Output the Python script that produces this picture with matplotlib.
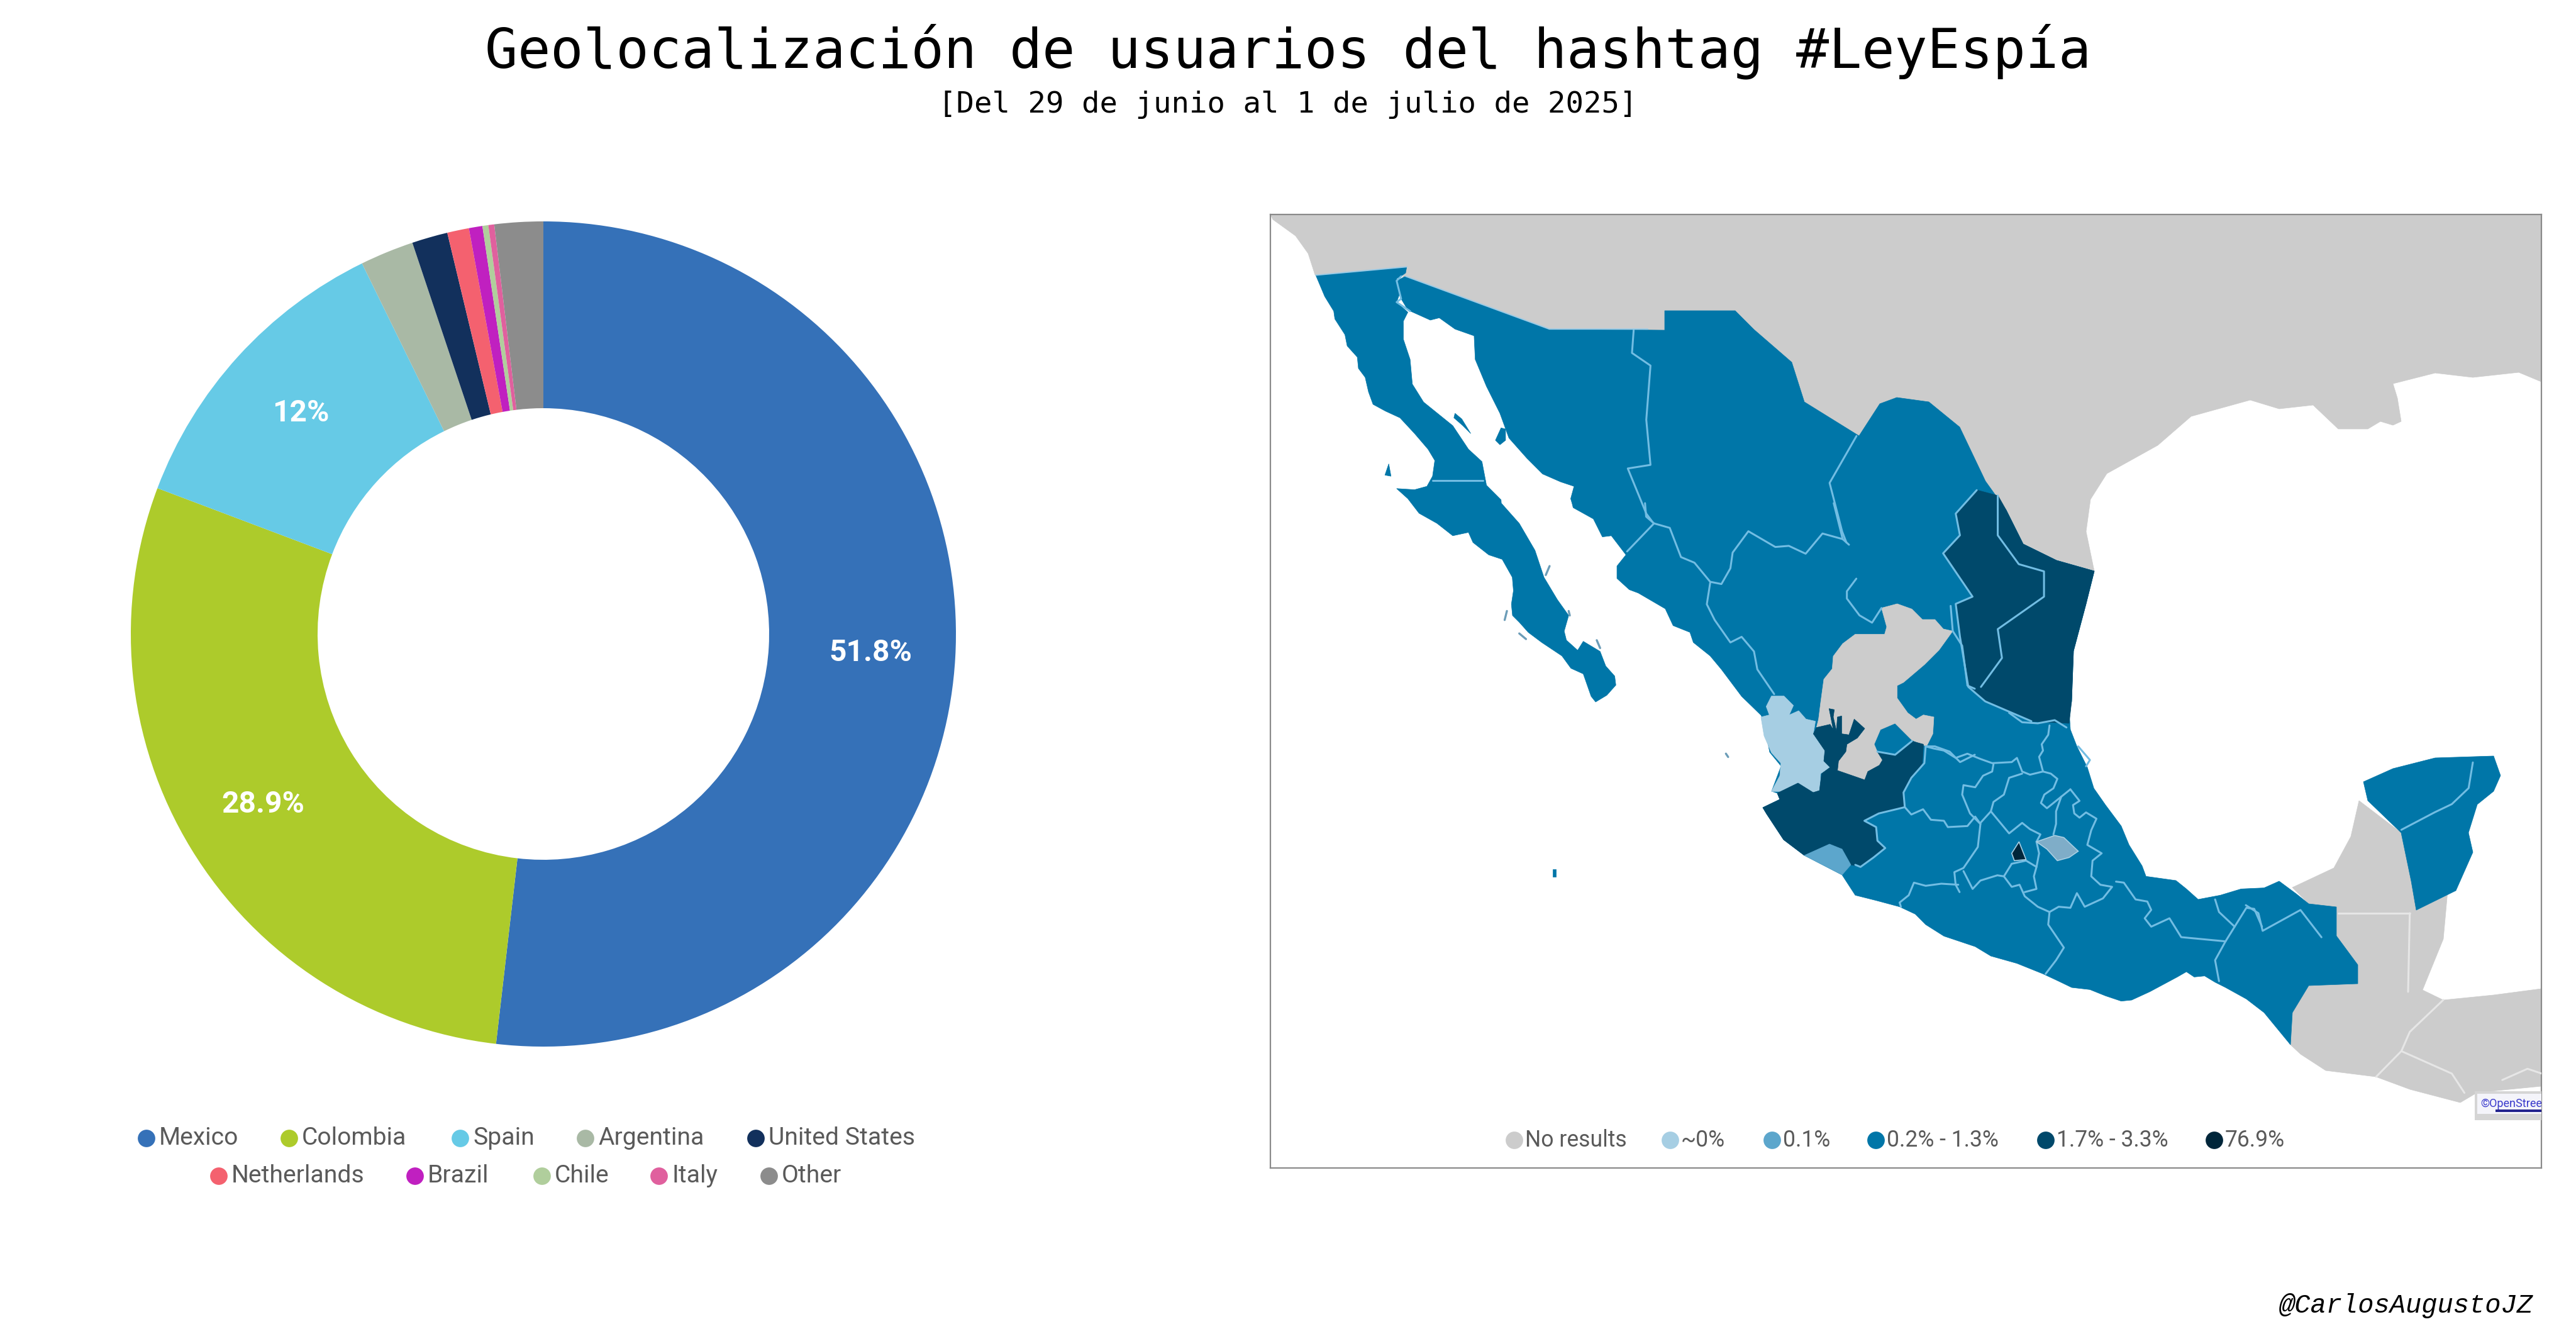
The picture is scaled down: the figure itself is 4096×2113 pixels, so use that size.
import matplotlib
matplotlib.use("Agg")
import matplotlib.pyplot as plt
from matplotlib.patches import Polygon, Rectangle

W, H = 4096, 2113

# ---------- donut data ----------
countries = ["Mexico", "Colombia", "Spain", "Argentina", "United States",
             "Netherlands", "Brazil", "Chile", "Italy", "Other"]
shares = [51.8, 28.9, 12.0, 2.1, 1.4, 0.85, 0.53, 0.23, 0.23, 1.9]
share_labels = ["51.8%", "28.9%", "12%", "", "", "", "", "", "", ""]
country_colors = ["#3571B8", "#ADCB2B", "#66CAE6", "#A9B9A5", "#12305C",
                  "#F4616F", "#C020C0", "#B0CE9C", "#E0609E", "#8C8C8C"]

# ---------- map legend ----------
map_classes = ["No results", "~0%", "0.1%", "0.2% - 1.3%", "1.7% - 3.3%", "76.9%"]
C_NONE, C_ZERO, C_LOW, C_MID, C_HIGH, C_TOP = ("#CCCCCC", "#A6CEE3", "#5CA6CC",
                                               "#0076A8", "#00496B", "#00263A")
map_colors = [C_NONE, C_ZERO, C_LOW, C_MID, C_HIGH, C_TOP]
C_LINE = "#72BDE3"


# ---------- sheets the outlines were traced on ----------
def from_north(pts):
    return [(2000 + 1.337 * x, 300 + 0.574 * y) for x, y in pts]


def from_center(pts):
    return [(2950 + x / 2.412, 1130 + y / 3) for x, y in pts]


def from_south(pts):
    return [(2000 + 1.337 * x, 1100 + 0.51 * y) for x, y in pts]


def from_a(pts):
    return [(2060 + x / 2.8, 400 + y / 2.8) for x, y in pts]


def from_b(pts):
    return [(2380 + x / 2.8, 800 + y / 2.8) for x, y in pts]


def from_c(pts):
    return [(2800 + x / 3, 920 + y / 3) for x, y in pts]


# ---------- traced geography ----------
usa = [(2020,341),(2024,349),(2060,375),(2080,403),(2091,437),(2238,424),(2230,441),(2461,525),
       (2647,525),(2647,494),(2759,494),(2789,524),(2849,576),(2869,639),(2956,693),(2989,642),
       (3016,632),(3067,639),(3116,679),(3157,765),(3190,811),(3217,865),(3270,891),(3330,908),
       (3317,845),(3324,794),(3350,753),(3431,708),(3484,662),(3578,636),(3624,650),(3678,644),
       (3718,682),(3765,682),(3785,670),(3805,676),(3818,670),(3812,633),(3805,610),(3872,593),
       (3932,600),(4005,592),(4041,607),(4041,341)]
baja = (from_a([(90,105),(130,200),(170,265),(175,300),(220,370),(230,420),(275,470),(280,520),
                (310,560),(325,625),(345,680),(400,710),(465,740),(530,810),(590,880),(620,930),
                (610,1000),(585,1045),(530,1060),(450,1055),(500,1100),(550,1165),(630,1210),
                (700,1265),(770,1250),(790,1295),(860,1350),(920,1370),(965,1450),(970,1510)])
        + from_b([(65,450),(70,500),(100,530),(140,575),(200,620),(290,680),(330,735),(385,760),
                  (420,860),(440,885),(490,855),(530,810),(525,770),(485,725),(460,660),(385,615),
                  (360,655),(310,610),(300,570),(320,500),(270,430),(210,330),(170,210),(100,90),
                  (20,0)])
        + from_a([(915,1105),(850,1040),(830,935),(770,880),(700,775),(570,670),(520,590),(510,480),
                  (480,390),(480,310),(500,270),(450,225),(470,170),(450,120),(470,110),(490,95),
                  (495,68)]))
baja_islands = [from_a([(915,785),(935,790),(935,840),(910,860),(890,840)]),
                from_a([(710,720),(740,745),(780,810),(745,775),(705,740)]),
                from_a([(415,945),(425,1000),(398,995)])]
mainland = (from_a([(490,110),(1130,345)])
            + [(2647,525),(2647,494),(2759,494),(2789,524),(2849,576),
               (2869,639),(2956,693),(2989,642),(3016,632),(3067,639),(3116,679),(3157,765),
               (3190,811),(3217,865),(3270,891),(3330,908),(3317,960),(3297,1035),(3294,1115)]
            + from_center([(820,0),(825,90),(850,170),(890,270),(915,370),(960,450),(1020,550),
                           (1050,640),(1100,740),(1115,790),(1230,810),(1270,850),(1315,900),
                           (1400,880),(1480,850),(1568,845)])
            + [(3624,1401),(3651,1421),(3671,1437),(3715,1442),(3715,1488),(3749,1534),(3749,1564),
               (3671,1567),(3645,1610),(3642,1661)]
            + from_center([(1568,1440),(1500,1375),(1420,1320),(1380,1295),(1340,1265),(1300,1270),
                           (1270,1245),(1235,1270),(1130,1340),(1060,1380),(1020,1385),(960,1360),
                           (900,1330),(830,1320),(780,1290),(720,1255),(620,1205),(520,1170),
                           (460,1125),(340,1075),(270,1020),(230,970),(170,935),(80,905),(0,880)])
            + [(2929,1391),(2869,1360),(2836,1335),(2809,1294),(2803,1284),(2830,1271),(2826,1261),
               (2817,1258),(2832,1218),(2814,1196),(2803,1143),(2800,1137)]
            + from_b([(1090,860),(1000,740),(950,680),(875,620),(860,575),(785,545),(750,470),
                      (630,400),(590,385),(535,335),(535,280),(575,230),(510,145),(470,150),
                      (430,70),(340,20),(335,0)])
            + from_a([(1225,1100),(1240,1045),(1180,1025),(1100,990),(1030,920),(950,830),(910,720),
                      (850,600),(800,480),(795,375),(710,345),(640,295),(600,305),(500,260),
                      (470,210),(450,130)]))
yucatan = [(3758,1243),(3805,1222),(3872,1205),(3965,1202),(3976,1233),(3965,1258),(3939,1279),
           (3925,1324),(3932,1355),(3905,1416),(3842,1447),(3834,1401),(3818,1324),(3765,1273)]
central_america = [(3751,1273),(3818,1324),(3834,1401),(3842,1447),(3892,1416),(3885,1493),
                   (3852,1574),(3885,1590),(3965,1582),(4041,1572),(4041,1727),(3939,1737),
                   (3912,1753),(3832,1732),(3778,1712),(3698,1702),(3658,1676),(3642,1661),
                   (3645,1610),(3671,1567),(3749,1564),(3749,1534),(3715,1488),(3715,1442),
                   (3671,1437),(3645,1411),(3711,1380),(3738,1330)]
noresult = from_c([(575,140),(650,120),(720,145),(770,195),(830,195),(870,240),(915,250),(850,340),
                   (780,410),(680,495),(650,510),(650,570),(700,640),(740,670),(775,650),(825,660),
                   (820,740),(790,800),(720,770),(640,690),(570,720),(540,790),(555,825),(580,865),
                   (565,890),(510,920),(495,960),(365,915),(370,870),(405,825),(410,790),(460,760),
                   (495,715),(445,670),(420,745),(385,740),(385,655),(365,660),(360,725),(345,660),
                   (350,625),(325,620),(345,720),(330,695),(265,710),(275,670),(285,590),(300,480),
                   (340,430),(345,370),(390,310),(450,265),(590,265),(600,230)])
high_west = (from_c([(250,740),(265,710),(330,695),(345,720),(325,620),(350,625),(345,660),(360,725),
                     (365,660),(385,655),(385,740),(420,745),(445,670),(495,715),(460,760),(410,790),
                     (405,825),(370,870),(365,915),(495,960),(510,920),(565,890),(580,865),(555,825),
                     (640,840),(720,775),(775,790),(770,880),(735,930),(680,1010)])
             + [(3029,1283),(2987,1293),(2965,1305),(2983,1315),(2985,1337),(2998,1348),(2979,1363),
                (2958,1378),(2943,1375),(2929,1350),(2909,1342),(2869,1360),(2836,1335),(2809,1294),
                (2803,1284),(2830,1271),(2826,1261),(2859,1245),(2883,1260),(2893,1257)]
             + from_c([(290,930),(330,900),(300,870),(305,820)]))
high_northeast = [(3143,779),(3177,788),(3190,811),(3217,865),(3270,891),(3330,908),(3317,960),
                  (3297,1035),(3294,1115),(3290,1150),(3230,1147),(3157,1115),(3130,1092),
                  (3116,1012),(3110,960),(3136,949),(3090,880),(3116,851),(3110,817)]
zero_west = from_c([(0,660),(40,650),(25,610),(50,560),(110,560),(155,605),(135,650),(180,630),
                    (215,670),(260,680),(250,740),(305,820),(300,870),(330,900),(285,930),(280,1010),
                    (250,1020),(175,975),(95,1015),(50,1015),(90,940),(95,880),(50,830),(15,750)])
low_west = [(2869,1360),(2909,1342),(2929,1350),(2943,1375),(2929,1391)]
socorro = [(2469,1382),(2474,1382),(2474,1394),(2469,1394)]
center_low = [(695,625),(765,595),(800,605),(855,670),(820,700),(775,715),(735,660)]
center_top = [(628,625),(655,710),(610,715),(600,680)]

north_lines = [
    [(447,392),(445,455),(467,490),(462,640),(467,765),(440,775),(462,900),(470,925)],
    [(712,685),(680,815),(695,950),(700,980)],
    [(880,850),(880,960),(905,1040),(935,1060),(935,1130),(880,1220),(885,1300),(860,1380)],
    [(855,835),(830,900),(835,960),(815,1010),(850,1130),(830,1150),(835,1240),(845,1380),(865,1420),
     (920,1475)],
]
a_lines = [
    [(470,110),(450,130),(470,210),(450,225),(510,265)],
    [(610,1018),(835,1018)],
]
a_edge_lines = [
    [(90,105),(495,68)],
    [(490,110),(1130,345),(1568,345)],
]
b_lines = [
    [(660,0),(665,60),(700,90),(580,215)],
    [(700,90),(770,110),(820,240),(880,265),(950,350),(1000,360),(1040,290),(1050,220),(1120,125),
     (1240,195),(1300,190),(1375,225),(1450,135),(1540,160),(1568,185)],
    [(1500,0),(1540,160)],
    [(950,355),(935,450),(970,520),(1040,620),(1090,595),(1145,660),(1160,740),(1235,850)],
]
b_islets = [
    [(45,480),(35,520)],
    [(100,580),(130,605)],
    [(235,280),(218,320)],
    [(1020,1115),(1030,1130)],
    [(320,480),(325,500)],
    [(445,610),(460,645)],
]
c_lines = [
    [(455,0),(410,60),(410,95),(470,175),(530,210),(575,140)],
    [(905,130),(915,250),(960,320),(985,510),(1020,525)],
    [(555,825),(640,840),(720,775)],
    [(790,800),(830,800),(900,825),(950,875),(1020,840)],
]
center_lines = [
    [(270,170),(300,180),(340,190),(385,225),(430,205),(480,230),(525,250),(600,245),(620,225),
     (640,290),(670,305),(720,290),(750,300),(775,325),(760,370),(725,400),(712,440),(735,465),(790,410)],
    [(825,375),(800,400),(790,410),(770,480),(770,540),(760,590)],
    [(825,375),(860,430),(835,450),(840,490),(860,510),(885,485),(925,515),(905,570),(890,640),
     (945,680),(910,715),(905,790),(940,830),(985,840),(950,895),(880,935),(850,870),(825,940),
     (780,935),(745,960),(700,935),(650,885),(630,830),(600,840),(570,790),(600,730)],
    [(745,70),(740,115),(715,160),(720,190),(705,220),(720,290)],
    [(590,10),(640,55),(700,60),(765,45),(810,80)],
    [(270,170),(265,250),(215,320),(185,390),(190,460),(215,495),(260,470),(290,520),(340,525),
     (355,555),(430,550),(460,505),(480,540)],
    [(190,460),(90,490),(35,525),(80,555),(85,620),(115,655),(70,700),(20,745),(0,735)],
    [(530,255),(525,290),(490,310),(460,365),(415,355),(410,400),(440,490),(480,540),(470,650),
     (415,750),(380,770),(385,830),(400,865)],
    [(640,300),(590,320),(570,400),(530,435),(520,480),(480,535)],
    [(520,480),(590,585),(640,535),(670,565),(710,590),(695,625)],
    [(415,765),(450,850),(480,810),(545,785),(570,790)],
    [(395,830),(330,825),(270,835),(225,820),(205,880),(170,915),(175,935)],
    [(600,730),(655,715),(695,745),(685,790),(695,850),(650,865)],
    [(695,625),(705,680),(695,745)],
    [(745,960),(740,1020),(800,1130),(770,1190),(730,1255)],
    [(1000,815),(1030,820),(1075,900),(1120,910),(1135,950),(1110,990),(1135,1030),(1205,990),
     (1250,1080),(1420,1100)],
    [(1420,1100),(1380,1190),(1395,1290)],
    [(1420,1100),(1455,1030),(1500,940),(1530,945),(1560,1030)],
    [(1380,900),(1395,960),(1455,1030)],
    [(855,170),(900,235),(885,265)],
]
south_lines = [
    [(1445,220),(1440,300),(1420,350),(1400,375),(1360,430)],
    [(1175,665),(1190,690),(1195,745),(1240,680),(1265,765)],
]
south_gray_lines = [
    [(1285,690),(1370,690)],
    [(1370,690),(1368,935)],
    [(1410,960),(1370,1060),(1360,1120),(1330,1200)],
    [(1360,1120),(1420,1190),(1435,1250)],
    [(1480,1210),(1510,1175),(1527,1190)],
]

# ---------- layout ----------
plt.rcParams["font.family"] = ["Roboto", "DejaVu Sans"]
fig = plt.figure(figsize=(W / 100, H / 100), dpi=100, facecolor="white")


def axes_px(x0, y0, x1, y1):
    return fig.add_axes([x0 / W, 1 - y1 / H, (x1 - x0) / W, (y1 - y0) / H])


# donut
cx, cy, R, r_in = 864, 1008, 656, 359
ax = axes_px(cx - R, cy - R, cx + R, cy + R)
wedges, texts, autotexts = ax.pie(
    shares, colors=country_colors, startangle=90, counterclock=False, radius=1,
    wedgeprops=dict(width=(R - r_in) / R, linewidth=0), autopct="%1.1f", pctdistance=0.795)
for t, lab in zip(autotexts, share_labels):
    t.set_text(lab)
    t.set_color("white")
    t.set_fontsize(34.5)
    t.set_fontweight("bold")
    t.set_fontfamily("Roboto")
ax.set_xlim(-1, 1)
ax.set_ylim(-1, 1)
ax.set_axis_off()

# map
FX0, FY0, FX1, FY1 = 2020, 341, 4041, 1857
m = axes_px(FX0, FY0, FX1, FY1)
m.set_xlim(FX0, FX1)
m.set_ylim(FY1, FY0)
m.set_xticks([])
m.set_yticks([])
for s in m.spines.values():
    s.set_color("#8A8A8A")
    s.set_linewidth(1.6)


def fill(pts, color, z=2, edge=None):
    m.add_patch(Polygon(pts, closed=True, facecolor=color, edgecolor=edge or color,
                        linewidth=1.2 if edge else 0.5, zorder=z))


def stroke(pts, color=C_LINE, lw=2.2, z=5):
    m.plot([p[0] for p in pts], [p[1] for p in pts], color=color, lw=lw, zorder=z,
           solid_joinstyle="round", solid_capstyle="round")


fill(usa, C_NONE)
fill(central_america, C_NONE)
fill(baja, C_MID, 3)
for isle in baja_islands:
    fill(isle, C_MID, 3)
fill(mainland, C_MID, 3)
fill(yucatan, C_MID, 3)
fill(socorro, C_MID, 3)
fill(zero_west, C_ZERO, 4)
fill(noresult, C_NONE, 4)
fill(high_northeast, C_HIGH, 4)
fill(high_west, C_HIGH, 4)
fill(low_west, C_LOW, 4)
for convert, group in ((from_north, north_lines), (from_a, a_lines), (from_b, b_lines),
                       (from_c, c_lines), (from_center, center_lines), (from_south, south_lines)):
    for line in group:
        stroke(convert(line))
for line in a_edge_lines:
    stroke(from_a(line), color="#9CCBE6", lw=1.4)
for line in b_islets:
    stroke(from_b(line), color="#6C9DB8", lw=2.4)
for line in south_gray_lines:
    stroke(from_south(line), color="#E6E6E6")
fill(from_center(center_low), "#7FADC8", 6, edge="#A9CFE3")
fill(from_center(center_top), C_TOP, 6, edge="#A9CFE3")

# attribution chip
m.add_patch(Rectangle((3935, 1735), 110, 46, facecolor="#D5D5D5", edgecolor="none", zorder=7))
m.add_patch(Rectangle((3939, 1739), 110, 32, facecolor="#F4F4FA", edgecolor="none", zorder=8))
m.text(3944, 1755, "©OpenStreetMap", color="#3A3ACC", fontsize=13, va="center", ha="left",
       zorder=9, clip_on=True)
m.add_patch(Rectangle((3968, 1764), 80, 4, facecolor="#23238E", edgecolor="none", zorder=9))

# map legend
map_dot_x = [2408, 2656, 2818, 2983, 3253, 3521]
m.scatter(map_dot_x, [1813] * 6, s=400, c=map_colors, linewidths=0, zorder=9)
for x, lab in zip(map_dot_x, map_classes):
    m.text(x + 17, 1813, lab, color="#5A5A5A", fontsize=25.6, va="center", ha="left", zorder=9)

# overlay for page text and donut legend
o = axes_px(0, 0, W, H)
o.set_xlim(0, W)
o.set_ylim(H, 0)
o.set_axis_off()
o.patch.set_alpha(0)

o.text(2048, 107, "Geolocalización de usuarios del hashtag #LeyEspía", family="DejaVu Sans Mono",
       fontsize=62.4, ha="center", va="baseline", color="black")
o.text(2048, 179, "[Del 29 de junio al 1 de julio de 2025]", family="DejaVu Sans Mono",
       fontsize=34, ha="center", va="baseline", color="black")
o.text(4028, 2087, "@CarlosAugustoJZ", family="Liberation Mono", style="italic",
       fontsize=30.3, ha="right", va="baseline", color="black")

legend_dot_x = [233, 460, 732, 931, 1202, 348, 660, 862, 1048, 1223]
legend_y = [1810] * 5 + [1870] * 5
o.scatter(legend_dot_x, legend_y, s=400, c=country_colors, linewidths=0)
for x, y, lab in zip(legend_dot_x, legend_y, countries):
    o.text(x + 20, y, lab, color="#5A5A5A", fontsize=28.2, va="center", ha="left")

fig.savefig("out.png", dpi=100, facecolor="white")
